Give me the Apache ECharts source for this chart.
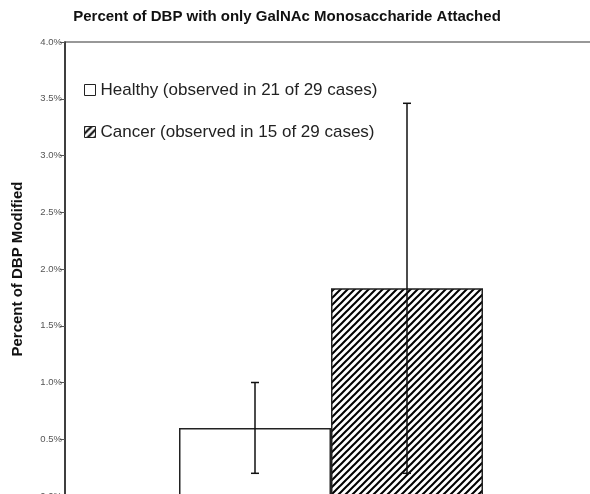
<!DOCTYPE html>
<html>
<head>
<meta charset="utf-8">
<script src="https://cdn.jsdelivr.net/npm/echarts@6/dist/echarts.min.js"></script>
<style>html,body{margin:0;padding:0;background:#fff}#c{width:590px;height:494px}</style>
</head>
<body>
<div id="c"></div>
<script>
// ---- data ----
const categories = ['DBP'];
const seriesNames = ['Healthy (observed in 21 of 29 cases)', 'Cancer (observed in 15 of 29 cases)'];
const healthyValues = [0.6];
const healthyErr = [0.4];
const cancerValues = [1.83];
const cancerErr = [1.63];
const yTicks = { min: 0, max: 4, interval: 0.5 };
const titleText = 'Percent of DBP with only GalNAc Monosaccharide Attached';
const yAxisName = 'Percent of DBP Modified';

// ---- styles ----
const FONT = '"Liberation Sans", Arial, sans-serif';
const BAR_W = 152;

function makeHatch() {
  const s = 7;
  const c = document.createElement('canvas');
  c.width = s; c.height = s;
  const g = c.getContext('2d');
  g.fillStyle = '#fff'; g.fillRect(0, 0, s, s);
  g.strokeStyle = '#000'; g.lineWidth = 2;
  [0, s, 2 * s].forEach(k => {
    g.beginPath();
    g.moveTo(-2, k + 2);
    g.lineTo(s + 2, k - s - 2);
    g.stroke();
  });
  return c;
}
const hatch = { image: makeHatch(), repeat: 'repeat' };

function errSeries(values, errs, sign) {
  return {
    type: 'custom',
    silent: true,
    z: 5,
    encode: { x: 0, y: [1, 2] },
    data: values.map((v, i) => [i, v - errs[i], v + errs[i]]),
    renderItem: function (params, api) {
      const lo = api.coord([api.value(0), api.value(1)]);
      const hi = api.coord([api.value(0), api.value(2)]);
      const x = lo[0] + sign * BAR_W / 2;
      const cap = 4;
      const st = { stroke: '#111', lineWidth: 1.5 };
      return {
        type: 'group',
        children: [
          { type: 'line', shape: { x1: x, y1: lo[1], x2: x, y2: hi[1] }, style: st },
          { type: 'line', shape: { x1: x - cap, y1: lo[1], x2: x + cap, y2: lo[1] }, style: st },
          { type: 'line', shape: { x1: x - cap, y1: hi[1], x2: x + cap, y2: hi[1] }, style: st }
        ]
      };
    }
  };
}

const chart = echarts.init(document.getElementById('c'));
chart.setOption({
  animation: false,
  backgroundColor: '#fff',
  title: {
    text: titleText,
    left: 287, top: 9, padding: 0,
    textAlign: 'center',
    textStyle: { fontFamily: FONT, fontSize: 15, fontWeight: 'bold', color: '#111' }
  },
  legend: {
    orient: 'vertical',
    left: 84, top: 81, padding: 0,
    itemWidth: 11, itemHeight: 11, itemGap: 24,
    data: seriesNames.map(n => ({ name: n, icon: 'rect' })),
    itemStyle: { borderWidth: 1 },
    textStyle: { fontFamily: FONT, fontSize: 17, color: '#222', lineHeight: 18 }
  },
  grid: {
    left: 65, top: 42, right: -7, bottom: -2,
    containLabel: false,
    outerBoundsMode: 'none',
    show: true, borderColor: '#777', borderWidth: 1.5, backgroundColor: 'transparent'
  },
  xAxis: {
    type: 'category',
    data: categories,
    axisLine: { show: false },
    axisTick: { show: false },
    axisLabel: { show: false }
  },
  yAxis: {
    type: 'value',
    min: yTicks.min, max: yTicks.max, interval: yTicks.interval,
    name: yAxisName,
    nameLocation: 'middle',
    nameGap: 40,
    nameTextStyle: { fontFamily: FONT, fontSize: 15, fontWeight: 'bold', color: '#111' },
    axisLine: { show: true, lineStyle: { color: '#222', width: 1.5 } },
    axisTick: { show: true, length: 5, lineStyle: { color: '#555' } },
    axisLabel: {
      fontFamily: FONT, fontSize: 9.5, color: '#555', margin: 3,
      formatter: v => v.toFixed(1) + '%'
    },
    splitLine: { show: false }
  },
  series: [
    {
      name: seriesNames[0], type: 'bar', data: healthyValues,
      barWidth: BAR_W, barGap: '0%',
      itemStyle: { color: '#fff', borderColor: '#222', borderWidth: 1.5 }
    },
    {
      name: seriesNames[1], type: 'bar', data: cancerValues,
      barWidth: BAR_W, barGap: '0%',
      itemStyle: { color: hatch, borderColor: '#222', borderWidth: 1.5 }
    },
    errSeries(healthyValues, healthyErr, -1),
    errSeries(cancerValues, cancerErr, 1)
  ]
});
</script>
</body>
</html>
